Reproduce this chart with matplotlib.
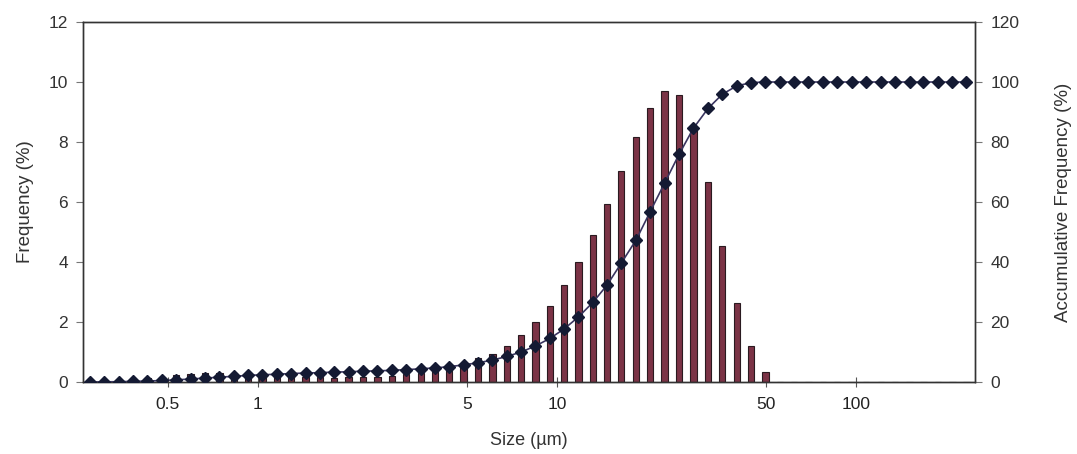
import numpy as np
import matplotlib
matplotlib.use("Agg")
import matplotlib.pyplot as plt

plt.rcParams["font.family"] = ["Liberation Sans", "DejaVu Sans"]

# particle size bins (um)
size = [0.274, 0.306, 0.342, 0.382, 0.427, 0.477, 0.532, 0.595, 0.665, 0.743,
        0.830, 0.927, 1.035, 1.156, 1.291, 1.442, 1.611, 1.800, 2.01, 2.24,
        2.51, 2.80, 3.13, 3.50, 3.91, 4.36, 4.87, 5.44, 6.08, 6.79,
        7.59, 8.47, 9.46, 10.57, 11.8, 13.2, 14.7, 16.4, 18.4, 20.5,
        22.9, 25.6, 28.6, 32.0, 35.7, 39.9, 44.6, 49.8, 55.6, 62.1,
        69.3, 77.4, 86.5, 96.6, 108, 121, 135, 151, 168, 188,
        210, 234]

# frequency (%) per bin
freq = [0.02, 0.03, 0.05, 0.08, 0.12, 0.18, 0.22, 0.26, 0.30, 0.30,
        0.30, 0.27, 0.25, 0.22, 0.20, 0.17, 0.15, 0.14, 0.15, 0.16,
        0.18, 0.20, 0.25, 0.30, 0.35, 0.45, 0.60, 0.80, 0.93, 1.20,
        1.57, 1.99, 2.54, 3.22, 4.01, 4.90, 5.92, 7.04, 8.18, 9.14,
        9.71, 9.58, 8.40, 6.68, 4.54, 2.62, 1.21, 0.34, 0, 0,
        0, 0, 0, 0, 0, 0, 0, 0, 0, 0,
        0, 0]

# accumulative frequency (%)
cum = [0.0, 0.05, 0.1, 0.2, 0.3, 0.5, 0.7, 1.0, 1.3, 1.6,
       1.9, 2.2, 2.4, 2.6, 2.8, 3.0, 3.1, 3.3, 3.4, 3.6,
       3.7, 3.9, 4.1, 4.4, 4.7, 5.1, 5.7, 6.4, 7.3, 8.5,
       10.0, 12.0, 14.5, 17.7, 21.7, 26.6, 32.3, 39.6, 47.4, 56.8,
       66.3, 75.9, 84.6, 91.2, 95.9, 98.7, 99.8, 100, 100, 100,
       100, 100, 100, 100, 100, 100, 100, 100, 100, 100,
       100, 100]

xticks = [0.5, 1, 5, 10, 50, 100]
xticklabels = ["0.5", "1", "5", "10", "50", "100"]

size = np.array(size)
freq = np.array(freq)

fig = plt.figure(figsize=(10.77, 4.54), dpi=100)
ax = fig.add_axes([0.0771, 0.1586, 0.8282, 0.7929])
ax.set_xscale("log")

# bars are drawn with equal width in log space
half = 10 ** 0.0105
left = size / half
width = size * half - left
ax.bar(left, freq, width=width, align="edge", color="#7b3346",
       edgecolor="#2a1a20", linewidth=0.8, zorder=2)

ax2 = ax.twinx()
ax2.plot(size, cum, color="#3a3560", lw=1.2, marker="D", ms=6.3,
         mfc="#141a33", mec="#141a33", zorder=3)

ax.set_xlim(0.26, 250)
ax.set_ylim(0, 12)
ax2.set_ylim(0, 120)
ax.set_yticks(np.arange(0, 13, 2))
ax2.set_yticks(np.arange(0, 121, 20))

ax.set_xticks(xticks)
ax.set_xticklabels(xticklabels)
ax.xaxis.set_minor_locator(matplotlib.ticker.NullLocator())

for a in (ax, ax2):
    for s in a.spines.values():
        s.set_color("#333333")
        s.set_linewidth(1.0)
ax.tick_params(axis="y", direction="out", length=5, color="#777777",
               labelsize=12.5, labelcolor="#333333", pad=6)
ax2.tick_params(axis="y", direction="out", length=5, color="#777777",
                labelsize=12.5, labelcolor="#333333", pad=6)
ax.tick_params(axis="x", direction="inout", length=7, color="#555555",
               labelsize=12.5, labelcolor="#222222", pad=7)

ax.set_xlabel("Size (\u00b5m)", fontsize=13, color="#333333", labelpad=15)
ax.set_ylabel("Frequency (%)", fontsize=13.5, color="#333333", labelpad=10)
ax2.set_ylabel("Accumulative Frequency (%)", fontsize=13.5, color="#333333",
               labelpad=26)

ax2.set_zorder(ax.get_zorder() + 1)
ax2.patch.set_visible(False)

fig.savefig("out.png", dpi=100)
